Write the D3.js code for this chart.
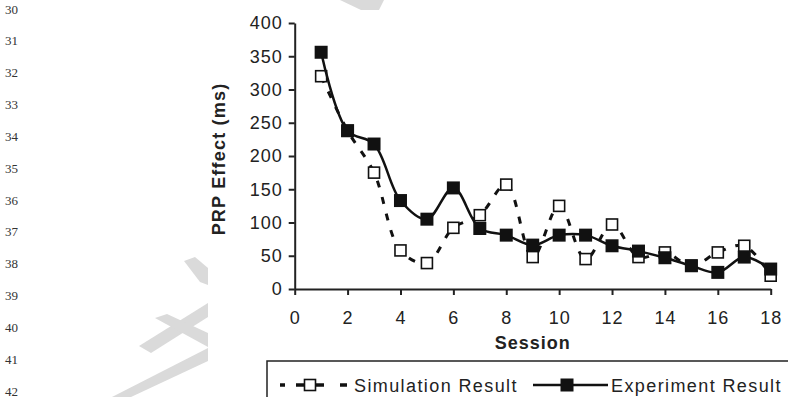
<!DOCTYPE html>
<html>
<head>
<meta charset="utf-8">
<script src="https://cdn.jsdelivr.net/npm/d3@7"></script>
<style>
  html, body { margin: 0; padding: 0; background: #fff; }
  svg { display: block; }
</style>
</head>
<body>
<svg id="chart" width="788" height="397"></svg>
<script>
// ---- data ----
const sessions = [1,2,3,4,5,6,7,8,9,10,11,12,13,14,15,16,17,18];
const simulation = [320, 238, 175, 58, 39, 92, 111, 157, 48, 125, 45, 97, 48, 55, 35, 55, 65, 20];
const experiment = [356, 238, 218, 133, 105, 152, 91, 81, 66, 81, 81, 65, 57, 47, 35, 25, 48, 30];
const xTicks = [0,2,4,6,8,10,12,14,16,18];
const yTicks = [0,50,100,150,200,250,300,350,400];
const lineNumbers = [30,31,32,33,34,35,36,37,38,39,40,41,42];
const seriesNames = ["Simulation Result", "Experiment Result"];
const xTitle = "Session";
const yTitle = "PRP Effect (ms)";

const svg = d3.select("#chart");
const font = "'Liberation Sans', Arial, sans-serif";

// ---- watermark (light gray fragments) ----
const wm = svg.append("g").attr("fill", "#dadada");
[
  [[340,0],[384,0],[379,10],[361,10]],
  [[184,261],[195,257],[208,268],[208,285],[200,282]],
  [[139,346],[151,353],[208,317],[208,303]],
  [[155,318],[167,314],[208,333],[208,347]],
  [[112,397],[131,397],[208,361],[208,348]]
].forEach(p => wm.append("polygon").attr("points", p.map(d => d.join(",")).join(" ")));

// ---- line numbers ----
const ln = d3.scaleLinear().domain([30, 42]).range([9, 391]);
svg.append("g").selectAll("text").data(lineNumbers).join("text")
  .attr("x", 5).attr("y", d => ln(d) + 4.5)
  .attr("font-family", "'Liberation Serif', 'Times New Roman', serif")
  .attr("font-size", 13).attr("fill", "#333")
  .text(d => d);

// ---- scales ----
const x = d3.scaleLinear().domain([0, 18]).range([294.7, 770.7]);
const y = d3.scaleLinear().domain([0, 400]).range([289, 23]);

// ---- axes ----
const yAxis = svg.append("g").attr("transform", `translate(${x(0)},0)`)
  .call(d3.axisLeft(y).tickValues(yTicks).tickSize(6).tickSizeOuter(0).tickPadding(6));
const xAxis = svg.append("g").attr("transform", `translate(0,${y(0)})`)
  .call(d3.axisBottom(x).tickValues(xTicks).tickSize(6).tickSizeOuter(0).tickPadding(16));
[yAxis, xAxis].forEach(a => {
  a.selectAll("path, line").attr("stroke", "#222").attr("stroke-width", 2);
  a.selectAll("text").attr("font-family", font).attr("font-size", 18)
    .attr("fill", "#222").attr("letter-spacing", 1);
});

// axis titles
svg.append("text").attr("x", (x(0) + x(18)) / 2).attr("y", 349)
  .attr("text-anchor", "middle").attr("font-family", font).attr("font-weight", "bold")
  .attr("font-size", 18).attr("letter-spacing", 1).attr("fill", "#222").text(xTitle);
svg.append("text").attr("transform", `translate(225,${(y(0)+y(400))/2 + 3}) rotate(-90)`)
  .attr("text-anchor", "middle").attr("font-family", font).attr("font-weight", "bold")
  .attr("font-size", 18).attr("letter-spacing", 1.2).attr("fill", "#222").text(yTitle);

// ---- lines ----
const line = d3.line().x((d, i) => x(sessions[i])).y(d => y(d))
  .curve(d3.curveCatmullRom.alpha(0.5));

svg.append("path").datum(simulation).attr("d", line)
  .attr("fill", "none").attr("stroke", "#111").attr("stroke-width", 3)
  .attr("stroke-dasharray", "7,10");

svg.append("g").selectAll("rect").data(simulation).join("rect")
  .attr("x", (d, i) => x(sessions[i]) - 5.5).attr("y", d => y(d) - 5.5)
  .attr("width", 11).attr("height", 11)
  .attr("fill", "#fff").attr("stroke", "#111").attr("stroke-width", 1.6);

svg.append("path").datum(experiment).attr("d", line)
  .attr("fill", "none").attr("stroke", "#111").attr("stroke-width", 2.5);

svg.append("g").selectAll("rect").data(experiment).join("rect")
  .attr("x", (d, i) => x(sessions[i]) - 6.5).attr("y", d => y(d) - 6.5)
  .attr("width", 13).attr("height", 13)
  .attr("fill", "#111");

// ---- legend ----
const lg = svg.append("g");
lg.append("rect").attr("x", 267).attr("y", 361).attr("width", 600).attr("height", 60)
  .attr("fill", "#fff").attr("stroke", "#222").attr("stroke-width", 1.5);
const ly = 385;
[[280, 285], [296, 324], [340, 347]].forEach(s =>
  lg.append("line").attr("x1", s[0]).attr("x2", s[1]).attr("y1", ly).attr("y2", ly)
    .attr("stroke", "#111").attr("stroke-width", 3.5));
lg.append("rect").attr("x", 304.5).attr("y", ly - 5.5).attr("width", 11).attr("height", 11)
  .attr("fill", "#fff").attr("stroke", "#111").attr("stroke-width", 1.6);
lg.append("text").attr("x", 354).attr("y", ly + 6.5).attr("font-family", font)
  .attr("font-size", 18).attr("letter-spacing", 1.4).attr("fill", "#222").text(seriesNames[0]);
lg.append("line").attr("x1", 533).attr("x2", 608).attr("y1", ly).attr("y2", ly)
  .attr("stroke", "#111").attr("stroke-width", 2.5);
lg.append("rect").attr("x", 560.5).attr("y", ly - 6.5).attr("width", 13).attr("height", 13)
  .attr("fill", "#111");
lg.append("text").attr("x", 611).attr("y", ly + 6.5).attr("font-family", font)
  .attr("font-size", 18).attr("letter-spacing", 1.4).attr("fill", "#222").text(seriesNames[1]);
</script>
</body>
</html>
